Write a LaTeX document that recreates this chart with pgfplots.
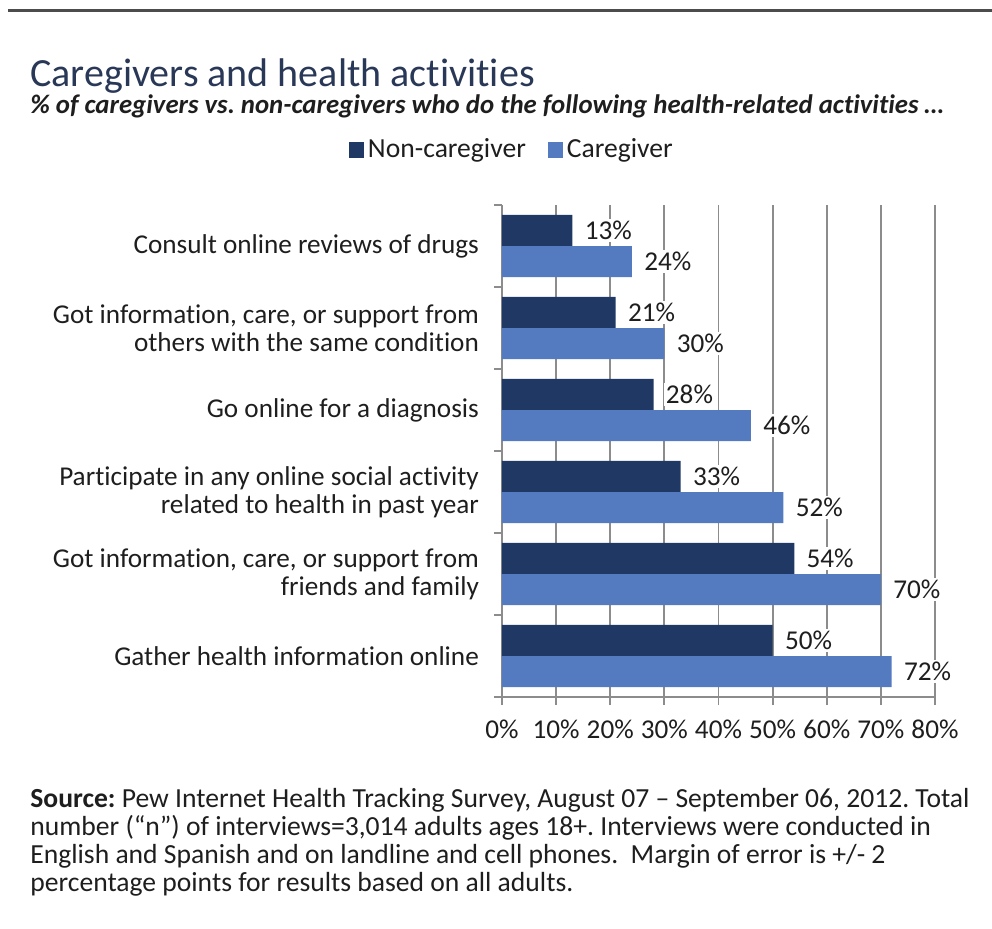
\documentclass[border=0pt]{standalone}
\usepackage{pgfplots}
\pgfplotsset{compat=1.18}
\usepackage{fontspec}
\setmainfont{Carlito}[Ligatures=NoCommon]
\frenchspacing
\definecolor{darkbar}{RGB}{32,56,100}
\definecolor{lightbar}{RGB}{84,122,192}
\definecolor{titleblue}{RGB}{42,56,88}
\definecolor{txt}{RGB}{30,30,30}
\definecolor{gridgray}{RGB}{140,140,140}

\begin{document}
\begin{tikzpicture}[x=1pt,y=1pt]
% canvas 992x928 px at 0.5pt per px
\path[use as bounding box] (0,0) rectangle (496,-464);
\draw[line width=1.5pt, color=black!70] (4,-5) -- (496,-5);
\node[anchor=base west, inner sep=0, text=titleblue, font=\fontsize{20}{23}\selectfont] at (15,-43) {Caregivers and health activities};
\node[anchor=base west, inner sep=0, text=txt, font=\fontsize{13.4}{15}\selectfont\bfseries\itshape] at (15,-56.5) {\% of caregivers vs. non-caregivers who do the following health-related activities \dots};
\node[anchor=north west, inner sep=0, text=txt, align=left, font=\fontsize{13.8}{14}\selectfont] at (15,-394) {\textbf{Source:} Pew Internet Health Tracking Survey, August 07 -- September 06, 2012. Total\\
number (``n'') of interviews=3,014 adults ages 18+. Interviews were conducted in\\
English and Spanish and on landline and cell phones.\ \ Margin of error is +/- 2\\
percentage points for results based on all adults.};

\begin{axis}[
  at={(251pt,-348.5pt)}, anchor=south west,
  scale only axis, width=216.5pt, height=246pt,
  xmin=0, xmax=80, ymin=-0.5, ymax=5.5,
  /pgf/number format/assume math mode=true,
  axis x line*=bottom, axis y line*=left,
  axis line style={gridgray, line width=0.9pt},
  xtick={0,10,...,80},
  xticklabel={\pgfmathprintnumber{\tick}\%},
  xmajorgrids, grid style={gridgray, line width=0.9pt},
  tick align=outside, major tick length=4pt, minor tick length=4pt,
  tick style={gridgray, line width=0.9pt},
  ytick={0,...,5},
  major y tick style={draw=none},
  minor ytick={-0.5,0.5,...,5.5},
  yticklabels={
    Gather health information online,
    {Got information, care, or support from\\friends and family},
    {Participate in any online social activity\\related to health in past year},
    Go online for a diagnosis,
    {Got information, care, or support from\\others with the same condition},
    Consult online reviews of drugs},
  yticklabel style={align=right, text=txt, font=\fontsize{13.6}{14}\selectfont, xshift=-4pt},
  xticklabel style={text=txt, font=\fontsize{13.6}{14}\selectfont, yshift=-4pt},
  legend columns=2,
  legend style={at={(0.025,1.112)}, anchor=center, draw=none, fill=none,
    font=\fontsize{13.8}{14}\selectfont, text=txt,
    /tikz/every even column/.append style={column sep=9pt}},
  legend image code/.code={\fill[#1] (0pt,-3.8pt) rectangle (7.5pt,3.8pt);},
  nodes near coords={\pgfmathprintnumber\pgfplotspointmeta\%},
  nodes near coords style={anchor=west, fill=white, inner sep=1pt, xshift=5pt,
    text=txt, font=\fontsize{13.6}{14}\selectfont},
  point meta=x,
]
\addplot[xbar, bar width=0.38, bar shift=0pt, fill=darkbar, draw=none]
  coordinates {(13,5.19) (21,4.19) (28,3.19) (33,2.19) (54,1.19) (50,0.19)};
\addlegendentry{Non-caregiver}
\addplot[xbar, bar width=0.38, bar shift=0pt, fill=lightbar, draw=none]
  coordinates {(24,4.81) (30,3.81) (46,2.81) (52,1.81) (70,0.81) (72,-0.19)};
\addlegendentry{Caregiver}
\end{axis}
\end{tikzpicture}
\end{document}
